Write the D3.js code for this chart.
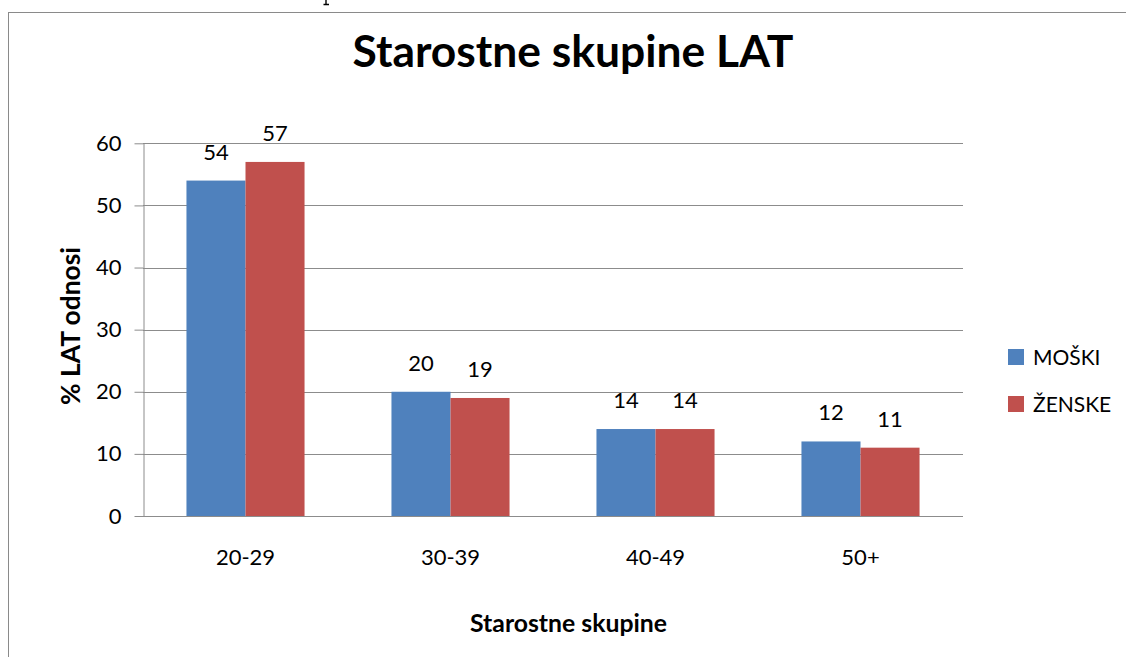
<!DOCTYPE html>
<html><head><meta charset="utf-8">
<script src="https://cdn.jsdelivr.net/npm/d3@7"></script>
<style>body{margin:0;background:#fff;} text{font-family:Lato,"Open Sans",sans-serif;fill:#000;}</style>
</head><body>
<svg id="c" width="1126" height="657"></svg>
<script>
const categories = ["20-29","30-39","40-49","50+"];
const seriesNames = ["MOŠKI","ŽENSKE"];
const moski = [54,20,14,12];
const zenske = [57,19,14,11];
const yTicks = [0,10,20,30,40,50,60];
const colors = ["#4F81BD","#C0504D"];

const svg = d3.select("#c");
function fit(sel, base, target){
  sel.style("font-size", base+"px");
  const w = sel.node().getComputedTextLength();
  sel.style("font-size", (base*target/w).toFixed(2)+"px");
  return sel;
}
// outer frame (cut off at right and bottom)
svg.append("rect").attr("x",8.5).attr("y",12.5).attr("width",1200).attr("height",800)
  .attr("fill","none").attr("stroke","#8a8a8a").attr("stroke-width",1);
// tiny fragment of a letter descender visible above the frame
svg.append("path").attr("d","M326,0 V4 M323.5,4.5 H329").attr("stroke","#000").attr("stroke-width",1.4).attr("fill","none");

const L=143, R=963, T=143.3, B=516;
const x0 = d3.scaleBand().domain(categories).range([L,R]).paddingInner(0).paddingOuter(0);
const inner = 0.576;
const x1 = d3.scaleBand().domain(seriesNames).range([0,x0.bandwidth()*inner]);
const y = d3.scaleLinear().domain([0,60]).range([B,T]);

// gridlines
svg.append("g").selectAll("line").data(yTicks.filter(d=>d>0)).join("line")
  .attr("x1",L).attr("x2",R).attr("y1",d=>Math.round(y(d))+0.5).attr("y2",d=>Math.round(y(d))+0.5)
  .attr("stroke","#8c8c8c").attr("stroke-width",1);

// y axis
const ya = svg.append("g").attr("transform",`translate(${L+0.5},0)`)
  .call(d3.axisLeft(y).tickValues(yTicks).tickSize(9).tickSizeOuter(0).tickPadding(13));
ya.select(".domain").attr("stroke","#8c8c8c");
ya.selectAll(".tick line").attr("stroke","#8c8c8c");
ya.selectAll(".tick text").style("font-size","22px").style("font-family","Lato,sans-serif").attr("fill","#000");

// bars
const data = categories.map((c,i)=>({cat:c, vals:[moski[i],zenske[i]]}));
const groups = svg.append("g").selectAll("g").data(data).join("g")
  .attr("transform",d=>`translate(${x0(d.cat)+x0.bandwidth()*(1-inner)/2},0)`);
groups.selectAll("rect").data(d=>d.vals.map((v,j)=>({v,s:seriesNames[j],j}))).join("rect")
  .attr("x",d=>x1(d.s)).attr("width",x1.bandwidth()).attr("y",d=>y(d.v)).attr("height",d=>B-y(d.v))
  .attr("fill",d=>colors[d.j]);
groups.selectAll("text").data(d=>d.vals.map((v,j)=>({v,s:seriesNames[j],j}))).join("text")
  .attr("x",d=>x1(d.s)+x1.bandwidth()/2).attr("y",d=>y(d.v)-21).attr("text-anchor","middle")
  .style("font-size","22px").text(d=>d.v);

// x axis line
svg.append("line").attr("x1",L).attr("x2",R).attr("y1",B+0.5).attr("y2",B+0.5).attr("stroke","#8c8c8c");
svg.append("g").selectAll("text").data(categories).join("text")
  .attr("x",d=>x0(d)+x0.bandwidth()/2).attr("y",565).attr("text-anchor","middle")
  .style("font-size","22px").text(d=>d);

// title
const title = svg.append("text").attr("x",573).attr("y",67).attr("text-anchor","middle")
  .style("font-weight","bold").text("Starostne skupine LAT");
fit(title,40,441);

// axis titles
const yl = svg.append("text").attr("transform","translate(80,326) rotate(-90)").attr("text-anchor","middle")
  .style("font-weight","bold").text("%  LAT odnosi");
fit(yl,20,158);
const xl = svg.append("text").attr("x",568.5).attr("y",632).attr("text-anchor","middle")
  .style("font-weight","bold").text("Starostne skupine");
fit(xl,20,197);

// legend
const lg = svg.append("g").selectAll("g").data(seriesNames).join("g")
  .attr("transform",(d,i)=>`translate(1008,${349+i*47})`);
lg.append("rect").attr("width",16).attr("height",16).attr("fill",(d,i)=>colors[i]);
lg.append("text").attr("x",25).attr("y",16).style("font-size","21px").text(d=>d);
</script>
</body></html>
